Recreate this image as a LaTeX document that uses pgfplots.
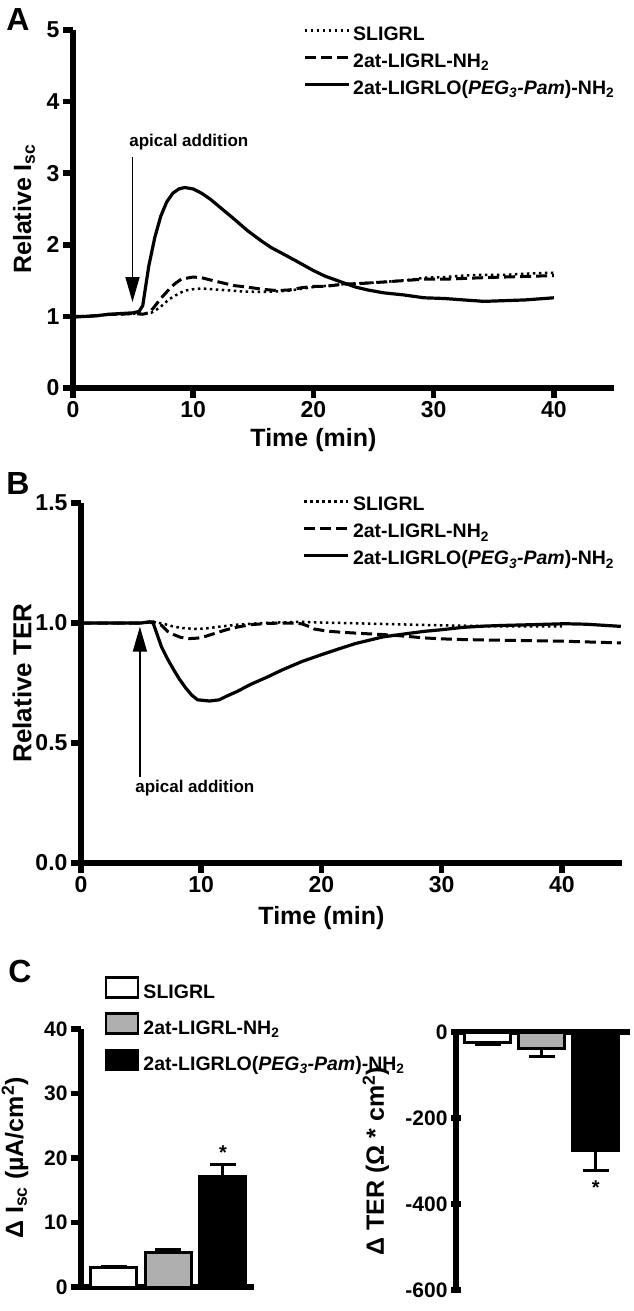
\documentclass[border=0pt]{standalone}
\usepackage{pgfplots}
\pgfplotsset{compat=1.18}
\usepackage{fontspec}
\setmainfont{Liberation Sans}
\usetikzlibrary{arrows.meta}
\newcommand{\fs}[1]{\fontsize{#1}{#1}\selectfont\bfseries}
\definecolor{bargray}{RGB}{175,175,175}

\pgfplotsset{
  panel/.style={
    scale only axis, axis lines=left,
    axis line style={-, /tikz/line width=5.5pt},
    x axis line style={/tikz/line width=5.5pt},
    y axis line style={/tikz/line width=5.5pt},
    tick align=outside, major tick length=10pt,
    major tick style={/tikz/line width=5.5pt, black},
    tick style={/tikz/line width=5.5pt, black},
    enlargelimits=false, clip=false,
    /pgf/number format/assume math mode=true,
    ticklabel style={font=\fs{23}},
    label style={font=\fs{25}},
    legend cell align=left,
  },
  linelegend/.style={
    legend image code/.code={\draw[##1] (0pt,5pt) -- (44pt,5pt);},
    legend style={draw=none, fill=none, inner sep=0pt, outer sep=0pt,
      row sep=8pt, column sep=3pt, font=\fs{19.5},
      nodes={inner sep=0pt, text height=14pt, text depth=5pt}},
  },
  sdot/.style={black, line width=2.5pt, dash pattern=on 2.5pt off 3.5pt},
  sdash/.style={black, line width=3pt, dash pattern=on 11pt off 5pt},
  ssolid/.style={black, line width=3.2pt},
}

\begin{document}
\begin{tikzpicture}
\path[use as bounding box] (0pt,0pt) rectangle (633pt,-1311pt);

% ---------------- Panel A ----------------
\node[font=\fs{32}] at (18pt,-19pt) {A};
\begin{axis}[panel, linelegend,
  at={(73pt,-388pt)}, anchor=south west, width=541pt, height=358pt,
  xmin=0, xmax=45, ymin=0, ymax=5,
  xtick={0,10,20,30,40}, ytick={0,1,2,3,4,5},
  xlabel={Time (min)}, ylabel={Relative I\textsubscript{sc}},
  x label style={at={(axis description cs:0.4444,-0.145)}, anchor=center},
  y label style={at={(axis description cs:-0.0906,0.5)}, anchor=center},
  legend style={at={(0.4251,1.011)}, anchor=north west},
]
\addplot[sdot] coordinates {(0,1.00) (1,1.00) (2,1.01) (3,1.03) (4,1.03) (5,1.04) (5.8,1.04) (6.5,1.05) (7.2,1.12) (8,1.24) (8.7,1.31) (9.3,1.36) (10,1.38) (10.7,1.39) (11.5,1.38) (12.4,1.37) (14,1.35) (15.7,1.34) (17,1.35) (18,1.36) (20,1.41) (22.5,1.45) (25.8,1.48) (28,1.51) (29.2,1.54) (31,1.55) (32.5,1.57) (34,1.58) (35.9,1.58) (38,1.60) (40,1.61)};
\addlegendentry{SLIGRL}
\addplot[sdash] coordinates {(0,1.00) (1,1.00) (2,1.01) (3,1.03) (4,1.03) (5,1.04) (5.8,1.03) (6.3,1.05) (6.7,1.12) (7.3,1.25) (8,1.38) (8.5,1.46) (9,1.52) (10,1.55) (10.7,1.54) (11.4,1.51) (12.4,1.47) (13.4,1.43) (14.5,1.41) (15.7,1.38) (17,1.36) (18,1.37) (19,1.40) (20,1.42) (21,1.42) (22.5,1.45) (24,1.46) (25.8,1.48) (27.5,1.50) (29.2,1.52) (31,1.52) (32.5,1.53) (34,1.54) (35.9,1.55) (38,1.56) (40,1.57)};
\addlegendentry{2at-LIGRL-NH\textsubscript{2}}
\addplot[ssolid] coordinates {(0,0.99) (1,1.00) (2,1.01) (3,1.03) (4,1.04) (5,1.05) (5.5,1.07) (5.8,1.15) (6.3,1.70) (6.8,2.10) (7.3,2.40) (7.8,2.60) (8.3,2.72) (8.8,2.78) (9.3,2.80) (10,2.78) (10.7,2.72) (11.4,2.64) (12.4,2.50) (13.4,2.36) (14.5,2.20) (15.7,2.05) (16.5,1.96) (17.4,1.88) (18.5,1.78) (20,1.64) (21,1.56) (22.5,1.47) (23.5,1.41) (24.5,1.37) (25.8,1.33) (27.5,1.30) (29.2,1.26) (30.9,1.25) (32.5,1.23) (34.2,1.21) (35.9,1.22) (37.6,1.23) (40,1.26)};
\addlegendentry{2at-LIGRLO(\textit{PEG\textsubscript{3}-Pam})-NH\textsubscript{2}}
\draw[line width=1.5pt, -{Triangle[length=25pt,width=14pt]}] (axis cs:4.95,3.23) -- (axis cs:4.95,1.2);
\node[font=\fs{17}, anchor=south west, inner sep=0pt] at (axis cs:4.67,3.32) {apical addition};
\end{axis}

% ---------------- Panel B ----------------
\node[font=\fs{32}] at (18pt,-483pt) {B};
\begin{axis}[panel, linelegend,
  at={(81pt,-863pt)}, anchor=south west, width=541pt, height=360pt,
  xmin=0, xmax=45, ymin=0, ymax=1.5,
  xtick={0,10,20,30,40}, ytick={0,0.5,1,1.5}, yticklabels={0.0,0.5,1.0,1.5},
  xlabel={Time (min)}, ylabel={Relative TER},
  label style={font=\fs{26}},
  x label style={at={(axis description cs:0.4444,-0.153)}, anchor=center, font=\fs{25}},
  y label style={at={(axis description cs:-0.109,0.5)}, anchor=center},
  legend style={at={(0.410,1.0167)}, anchor=north west},
]
\addplot[sdot] coordinates {(0,1.0) (5,1.0) (6,1.005) (6.5,1.0) (7,0.995) (7.7,0.985) (8.4,0.979) (9.7,0.975) (10.5,0.978) (11.7,0.986) (13,0.993) (15.1,1.0) (17,1.003) (18.4,1.005) (20,1.002) (21.8,1.0) (25.1,0.996) (30.2,0.99) (35.2,0.986) (40,0.986)};
\addlegendentry{SLIGRL}
\addplot[sdash] coordinates {(0,1.0) (5,1.0) (6,1.005) (6.7,0.99) (7.2,0.965) (7.7,0.952) (8.3,0.94) (9,0.935) (9.7,0.937) (10.4,0.945) (11.2,0.958) (12.1,0.972) (13,0.983) (14.1,0.993) (15.5,0.998) (16.8,1.0) (17.8,1.0) (18.4,0.996) (19,0.985) (19.4,0.975) (20.5,0.966) (21.8,0.961) (23.5,0.956) (25.1,0.952) (27,0.945) (28.5,0.938) (30,0.934) (31.8,0.931) (35.2,0.928) (40.2,0.924) (44.9,0.917)};
\addlegendentry{2at-LIGRL-NH\textsubscript{2}}
\addplot[ssolid] coordinates {(0,1.0) (5,1.0) (5.7,1.005) (6,1.0) (6.7,0.90) (7.2,0.85) (7.7,0.806) (8.2,0.765) (8.7,0.73) (9.2,0.70) (9.7,0.68) (10.7,0.675) (11.5,0.68) (12.1,0.695) (13,0.715) (14.1,0.744) (15.5,0.775) (16.8,0.806) (18.4,0.84) (20,0.868) (21.5,0.893) (22.8,0.914) (25.1,0.942) (27,0.955) (28.5,0.965) (30,0.972) (31.8,0.982) (33.5,0.987) (35.2,0.99) (37.5,0.993) (40.2,0.997) (42,0.995) (44.9,0.986)};
\addlegendentry{2at-LIGRLO(\textit{PEG\textsubscript{3}-Pam})-NH\textsubscript{2}}
\draw[line width=1.5pt, -{Triangle[length=25pt,width=14pt]}] (axis cs:4.9,0.36) -- (axis cs:4.9,0.985);
\node[font=\fs{17}, anchor=north west, inner sep=0pt] at (axis cs:4.5,0.346) {apical addition};
\end{axis}

% ---------------- Panel C ----------------
\node[font=\fs{32}] at (20pt,-971pt) {C};
\begin{axis}[panel,
  ticklabel style={font=\fs{21}},
  at={(81pt,-1287pt)}, anchor=south west, width=173pt, height=258pt,
  xmin=-0.605, xmax=2.57, ymin=0, ymax=40,
  xtick=\empty, ytick={0,10,20,30,40},
  ylabel={Δ I\textsubscript{sc} (\textmu A/cm\textsuperscript{2})},
  y label style={at={(axis description cs:-0.3815,0.5)}, anchor=center},
  ybar, bar width=46pt,
  legend image code/.code={\draw[#1, line width=2.5pt] (0pt,-3pt) rectangle (32pt,17pt);},
  legend style={at={(0.1387,1.2054)}, anchor=north west, draw=none, fill=none,
    inner sep=0pt, outer sep=0pt, row sep=8pt, column sep=4pt, font=\fs{19.5},
    nodes={inner sep=0pt, text height=14pt, text depth=6pt}},
  error bars/y dir=plus, error bars/y explicit,
  error bars/error bar style={line width=3pt, black},
  error bars/error mark options={rotate=90, mark size=13pt, line width=3pt, black},
]
\addplot[bar shift=0pt, fill=white, draw=black, line width=3pt] coordinates {(0,3.0) +- (0,0.2)};
\addlegendentry{SLIGRL}
\addplot[bar shift=0pt, fill=bargray, draw=black, line width=3pt] coordinates {(1,5.3) +- (0,0.5)};
\addlegendentry{2at-LIGRL-NH\textsubscript{2}}
\addplot[bar shift=0pt, fill=black, draw=black, line width=3pt] coordinates {(2,17.2) +- (0,1.8)};
\addlegendentry{2at-LIGRLO(\textit{PEG\textsubscript{3}-Pam})-NH\textsubscript{2}}
\node[font=\fs{20}] at (axis cs:2,20.8) {*};
\end{axis}

\begin{axis}[panel,
  axis x line=top, axis y line=left,
  axis line style={-, /tikz/line width=5.5pt},
  x axis line style={-, /tikz/line width=5.5pt},
  y axis line style={-, /tikz/line width=5.5pt},
  ticklabel style={font=\fs{21}},
  at={(456pt,-1290pt)}, anchor=south west, width=174pt, height=258pt,
  xmin=-0.583, xmax=2.63, ymin=-600, ymax=0,
  xtick=\empty, ytick={-600,-400,-200,0}, yticklabels={-600,-400,-200,0},
  ylabel={Δ TER (Ω * cm\textsuperscript{2})},
  y label style={at={(axis description cs:-0.461,0.5)}, anchor=center},
  ybar, bar width=46pt,
  error bars/y dir=minus, error bars/y explicit,
  error bars/error bar style={line width=3pt, black},
  error bars/error mark options={rotate=90, mark size=13pt, line width=3pt, black},
]
\addplot[bar shift=0pt, fill=white, draw=black, line width=3pt] coordinates {(0,-25) +- (0,5)};
\addplot[bar shift=0pt, fill=bargray, draw=black, line width=3pt] coordinates {(1,-38) +- (0,18)};
\addplot[bar shift=0pt, fill=black, draw=black, line width=3pt] coordinates {(2,-275) +- (0,48)};
\node[font=\fs{20}] at (axis cs:2,-362) {*};
\end{axis}
\end{tikzpicture}
\end{document}
